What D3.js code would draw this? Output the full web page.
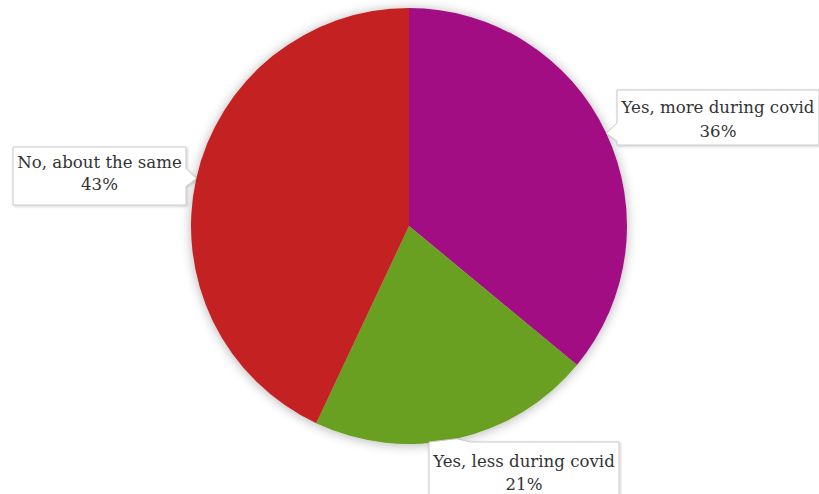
<!DOCTYPE html>
<html>
<head>
<meta charset="utf-8">
<script src="https://cdn.jsdelivr.net/npm/d3@7"></script>
<style>
  html, body { margin: 0; padding: 0; background: #ffffff; }
  svg { display: block; }
</style>
</head>
<body>
<svg id="chart" width="819" height="494"></svg>
<script>
// Survey answers, drawn clockwise from 12 o'clock
const categories = ["Yes, more during covid", "Yes, less during covid", "No, about the same"];
const shares = [36, 21, 43];
const labels = ["36%", "21%", "43%"];
const colors = ["#a30f83", "#6aa021", "#c42424"];

const width = 819, height = 494;
const cx = 409, cy = 226, radius = 218;

const svg = d3.select("#chart");
const defs = svg.append("defs");

// soft shadow behind the pie
const f = defs.append("filter").attr("id", "pieShadow")
  .attr("x", "-20%").attr("y", "-20%").attr("width", "140%").attr("height", "140%");
f.append("feGaussianBlur").attr("in", "SourceAlpha").attr("stdDeviation", 6).attr("result", "b");
f.append("feOffset").attr("in", "b").attr("dx", 0).attr("dy", 1).attr("result", "o");
f.append("feComponentTransfer").attr("in", "o").attr("result", "s")
  .append("feFuncA").attr("type", "linear").attr("slope", 0.3);
const m = f.append("feMerge");
m.append("feMergeNode").attr("in", "s");
m.append("feMergeNode").attr("in", "SourceGraphic");

const boxShadow = defs.append("filter").attr("id", "boxShadow")
  .attr("x", "-10%").attr("y", "-20%").attr("width", "120%").attr("height", "140%");
boxShadow.append("feGaussianBlur").attr("in", "SourceAlpha").attr("stdDeviation", 1.5).attr("result", "b");
boxShadow.append("feOffset").attr("in", "b").attr("dx", 1).attr("dy", 1).attr("result", "o");
boxShadow.append("feComponentTransfer").attr("in", "o").attr("result", "s")
  .append("feFuncA").attr("type", "linear").attr("slope", 0.2);
const m2 = boxShadow.append("feMerge");
m2.append("feMergeNode").attr("in", "s");
m2.append("feMergeNode").attr("in", "SourceGraphic");

const data = categories.map((c, i) => ({ category: c, value: shares[i], label: labels[i], color: colors[i] }));

const pie = d3.pie().value(d => d.value).sort(null);
const arcs = pie(data);
const arc = d3.arc().innerRadius(0).outerRadius(radius);

const g = svg.append("g").attr("transform", `translate(${cx},${cy})`);
g.append("g").attr("filter", "url(#pieShadow)")
  .selectAll("path").data(arcs).join("path")
  .attr("d", arc)
  .attr("fill", d => d.data.color);

// Callout boxes: rectangle plus a pointer reaching the slice edge
const boxes = [
  { x: 617, y: 90, w: 202, h: 55, l1: 23, l2: 47 },   // Yes, more during covid
  { x: 429, y: 442, w: 190, h: 60, l1: 25, l2: 48 },  // Yes, less during covid
  { x: 13, y: 147, w: 173, h: 58, l1: 21, l2: 43 }    // No, about the same
];

function calloutPath(b, tx, ty) {
  const x0 = b.x, y0 = b.y, x1 = b.x + b.w, y1 = b.y + b.h;
  if (tx < x0) {
    const ya = Math.max(y0 + 4, Math.min(y1 - 20, ty - 10)), yb = ya + 18;
    return `M${x0},${y0}H${x1}V${y1}H${x0}V${yb}L${tx},${ty}L${x0},${ya}Z`;
  } else if (tx > x1) {
    const ya = Math.max(y0 + 4, Math.min(y1 - 20, ty - 10)), yb = ya + 18;
    return `M${x0},${y0}H${x1}V${ya}L${tx},${ty}L${x1},${yb}V${y1}H${x0}Z`;
  } else {
    const xa = Math.max(x0, tx - 6), xb = xa + 20;
    return `M${x0},${y0}L${tx},${ty}L${xb},${y0}H${x1}V${y1}H${x0}Z`;
  }
}

const labelLayer = svg.append("g");
arcs.forEach((a, i) => {
  const b = boxes[i];
  const mid = (a.startAngle + a.endAngle) / 2;
  const tx = cx + radius * Math.sin(mid);
  const ty = cy - radius * Math.cos(mid);
  labelLayer.append("path")
    .attr("d", calloutPath(b, tx, ty))
    .attr("fill", "#ffffff")
    .attr("stroke", "#c8c8c8")
    .attr("stroke-width", 1)
    .attr("filter", "url(#boxShadow)");
  const t = labelLayer.append("text")
    .attr("text-anchor", "middle")
    .attr("font-family", "'DejaVu Serif', serif")
    .attr("font-size", 16.6)
    .attr("fill", "#333333");
  t.append("tspan").attr("x", b.x + b.w / 2).attr("y", b.y + b.l1).text(a.data.category);
  t.append("tspan").attr("x", b.x + b.w / 2).attr("y", b.y + b.l2).text(a.data.label);
});
</script>
</body>
</html>
